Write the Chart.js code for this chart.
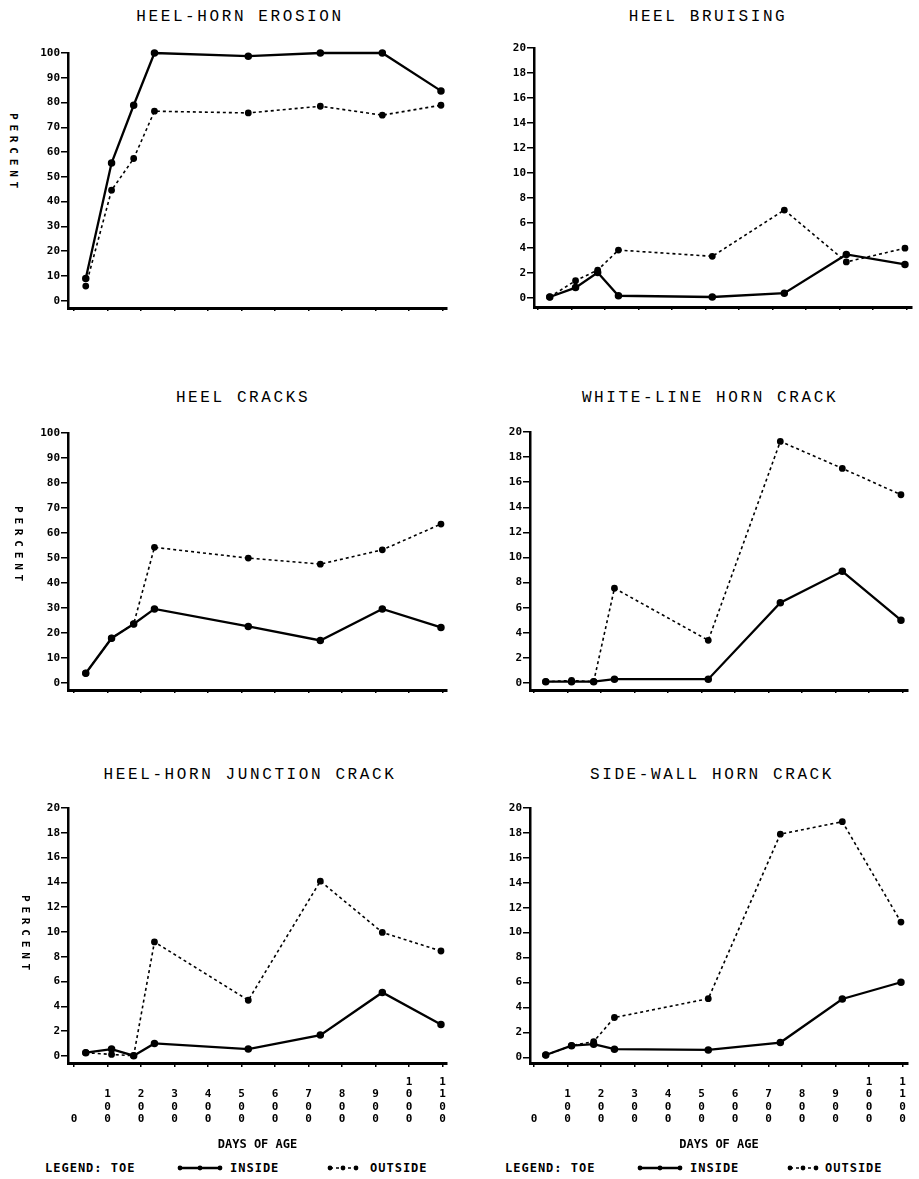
<!DOCTYPE html>
<html>
<head>
<meta charset="utf-8">
<script src="https://cdn.jsdelivr.net/npm/chart.js@4.4.1/dist/chart.umd.min.js"></script>
<style>
  body { margin: 0; background: #fff; width: 919px; height: 1179px; position: relative; overflow: hidden;
         font-family: "DejaVu Sans Mono", monospace; color: #000; }
  canvas { position: absolute; }
  .title { position: absolute; font-family: "Liberation Mono", monospace; font-size: 16px; letter-spacing: 2.6px;
           white-space: nowrap; transform: translate(-50%, -50%); }
  .ylab { position: absolute; writing-mode: vertical-rl; font-weight: bold; font-size: 11px; letter-spacing: 4.8px;
          transform: translate(-50%, -50%); }
  .leg { position: absolute; font-weight: bold; font-size: 12px; letter-spacing: 1px; white-space: nowrap;
         transform: translateY(-50%); }
  svg { position: absolute; }
</style>
</head>
<body>
<script>
// sampling ages (days) shared by every panel
const days = [35, 112, 178, 240, 520, 735, 920, 1095];
const dayTicks = [0, 100, 200, 300, 400, 500, 600, 700, 800, 900, 1000, 1100];
const pctTicks = [0, 10, 20, 30, 40, 50, 60, 70, 80, 90, 100];
const smallTicks = [0, 2, 4, 6, 8, 10, 12, 14, 16, 18, 20];

const erosionInside = [9, 55.6, 78.9, 100, 98.7, 100, 100, 84.7];
const erosionOutside = [5.9, 44.6, 57.4, 76.5, 75.8, 78.5, 74.9, 78.9];
const bruisingInside = [0.1, 0.85, 2.05, 0.2, 0.1, 0.4, 3.5, 2.7];
const bruisingOutside = [0.1, 1.4, 2.25, 3.85, 3.35, 7.05, 2.9, 4.0];
const cracksInside = [4, 18, 23.7, 29.7, 22.7, 17.1, 29.7, 22.3];
const cracksOutside = [4, 18, 23.7, 54.3, 50.0, 47.6, 53.3, 63.6];
const whiteInside = [0.1, 0.1, 0.1, 0.3, 0.3, 6.4, 8.9, 5.0];
const whiteOutside = [0.1, 0.2, 0.1, 7.55, 3.4, 19.25, 17.1, 15.0];
const junctionInside = [0.27, 0.56, 0.03, 1.02, 0.56, 1.69, 5.13, 2.55];
const junctionOutside = [0.27, 0.13, 0.03, 9.2, 4.5, 14.1, 9.97, 8.47];
const sidewallInside = [0.18, 0.93, 1.05, 0.65, 0.59, 1.18, 4.68, 6.02];
const sidewallOutside = [0.18, 0.93, 1.26, 3.19, 4.7, 17.9, 18.9, 10.85];

const tickFont = { family: "DejaVu Sans Mono", weight: "bold", size: 11 };

function pts(arr) {
  return days.map((d, i) => ({ x: d, y: arr[i] }));
}

function addText(cls, text, x, y) {
  const el = document.createElement("div");
  el.className = cls;
  el.textContent = text;
  el.style.left = x + "px";
  el.style.top = y + "px";
  document.body.appendChild(el);
}

function panel(p) {
  const yw = 48, padTop = 8, padRight = 10;
  const xh = p.bottomRow ? 95 : 8;
  const c = document.createElement("canvas");
  const w = yw + (p.right - p.left) + padRight;
  const h = padTop + (p.bottom - p.top) + xh;
  c.width = w; c.height = h;
  c.style.left = (p.left - yw) + "px";
  c.style.top = (p.top - padTop) + "px";
  c.style.width = w + "px"; c.style.height = h + "px";
  document.body.appendChild(c);

  new Chart(c, {
    type: "line",
    data: {
      datasets: [
        { label: "INSIDE", data: pts(p.inside), borderColor: "#000", backgroundColor: "#000",
          borderWidth: 2.3, pointRadius: 2.6, pointBackgroundColor: "#000", tension: 0, clip: false },
        { label: "OUTSIDE", data: pts(p.outside), borderColor: "#000", backgroundColor: "#000",
          borderWidth: 1.6, borderDash: [3, 3], pointRadius: 2.6, pointBackgroundColor: "#000", tension: 0, clip: false },
      ],
    },
    options: {
      responsive: false,
      animation: false,
      layout: { padding: { top: padTop, right: padRight, left: 0, bottom: 0 } },
      plugins: { legend: { display: false }, tooltip: { enabled: false } },
      scales: {
        x: {
          type: "linear",
          min: p.xMin, max: p.xMax,
          afterBuildTicks: s => { s.ticks = dayTicks.map(v => ({ value: v })); },
          afterFit: s => { s.height = xh; s.paddingLeft = 0; s.paddingRight = 0; },
          border: { color: "#000", width: 3 },
          grid: { drawOnChartArea: false, color: "#000", lineWidth: 1.5, tickLength: p.bottomRow ? 4 : 3 },
          ticks: {
            display: !!p.bottomRow, autoSkip: false, maxRotation: 0, minRotation: 0,
            crossAlign: "far", padding: 15, color: "#000",
            font: Object.assign({ lineHeight: 1.13 }, tickFont),
            callback: v => String(v).split(""),
          },
          title: {
            display: !!p.bottomRow, text: "DAYS OF AGE", color: "#000",
            font: { family: "DejaVu Sans Mono", weight: "bold", size: 12 }, padding: { top: 0, bottom: 6 },
          },
        },
        y: {
          min: p.yMin, max: p.yMax,
          afterBuildTicks: s => { s.ticks = p.yTicks.map(v => ({ value: v })); },
          afterFit: s => { s.width = yw; s.paddingTop = 0; s.paddingBottom = 0; },
          border: { color: "#000", width: 2.5, dash: [2, 2] },
          grid: { drawOnChartArea: false, color: "#000", lineWidth: 1.5, tickLength: 7 },
          ticks: { padding: 1, color: "#000", font: tickFont },
        },
      },
    },
  });
}

// left column
panel({ left: 68, right: 447, top: 53, bottom: 308, xMin: -18, xMax: 1113, yMin: -2.95, yMax: 100,
        yTicks: pctTicks, inside: erosionInside, outside: erosionOutside });
panel({ left: 68, right: 447, top: 433, bottom: 690, xMin: -18, xMax: 1113, yMin: -2.7, yMax: 100,
        yTicks: pctTicks, inside: cracksInside, outside: cracksOutside });
panel({ left: 68, right: 447, top: 808, bottom: 1063, xMin: -18, xMax: 1113, yMin: -0.56, yMax: 20,
        yTicks: smallTicks, inside: junctionInside, outside: junctionOutside, bottomRow: true });
// right column
panel({ left: 534, right: 912, top: 48, bottom: 307, xMin: -12, xMax: 1116, yMin: -0.7, yMax: 20,
        yTicks: smallTicks, inside: bruisingInside, outside: bruisingOutside });
panel({ left: 530, right: 908, top: 432, bottom: 690, xMin: -12, xMax: 1116, yMin: -0.56, yMax: 20,
        yTicks: smallTicks, inside: whiteInside, outside: whiteOutside });
panel({ left: 530, right: 908, top: 808, bottom: 1063, xMin: -12, xMax: 1116, yMin: -0.46, yMax: 20,
        yTicks: smallTicks, inside: sidewallInside, outside: sidewallOutside, bottomRow: true });

// titles
addText("title", "HEEL-HORN EROSION", 240, 17);
addText("title", "HEEL BRUISING", 708, 17);
addText("title", "HEEL CRACKS", 243, 398);
addText("title", "WHITE-LINE HORN CRACK", 710, 398);
addText("title", "HEEL-HORN JUNCTION CRACK", 250, 775);
addText("title", "SIDE-WALL HORN CRACK", 712, 775);

// y-axis titles
addText("ylab", "PERCENT", 13, 153);
addText("ylab", "PERCENT", 18, 546);
addText("ylab", "PERCENT", 25, 935);

// legends
function legend(x0, solidX, insideX, dashX, outsideX, y) {
  addText("leg", "LEGEND: TOE", x0, y);
  const ns = "http://www.w3.org/2000/svg";
  function sample(x, w, dash) {
    const s = document.createElementNS(ns, "svg");
    s.setAttribute("width", w + 8); s.setAttribute("height", 10);
    s.style.left = (x - 4) + "px"; s.style.top = (y - 5) + "px";
    const l = document.createElementNS(ns, "line");
    l.setAttribute("x1", 4); l.setAttribute("x2", w + 4); l.setAttribute("y1", 5); l.setAttribute("y2", 5);
    l.setAttribute("stroke", "#000"); l.setAttribute("stroke-width", dash ? 1.6 : 2.4);
    if (dash) l.setAttribute("stroke-dasharray", "3 3");
    s.appendChild(l);
    [0, w / 2, w].forEach(cx => {
      const c = document.createElementNS(ns, "circle");
      c.setAttribute("cx", cx + 4); c.setAttribute("cy", 5); c.setAttribute("r", 2.4); c.setAttribute("fill", "#000");
      s.appendChild(c);
    });
    document.body.appendChild(s);
  }
  sample(solidX, 40, false);
  addText("leg", "INSIDE", insideX, y);
  sample(dashX, 26, true);
  addText("leg", "OUTSIDE", outsideX, y);
}
legend(45, 180, 230, 330, 370, 1168);
legend(505, 640, 690, 790, 825, 1168);
</script>
</body>
</html>
